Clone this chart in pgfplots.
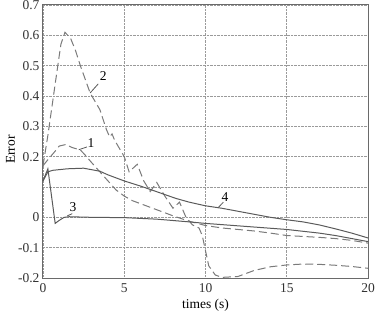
\documentclass[border=0pt]{standalone}
\usepackage{pgfplots}
\pgfplotsset{compat=1.18}
\usepackage{fontspec}
\setmainfont{Liberation Serif}
\definecolor{solidc}{HTML}{5A5A5A}
\definecolor{dashc}{HTML}{7A7A7A}
\definecolor{gridc}{HTML}{9A9A9A}
\definecolor{framec}{HTML}{6A6A6A}
\begin{document}
\begin{tikzpicture}
\begin{axis}[
  at={(0pt,0pt)}, anchor=south west,
  scale only axis, width=325pt, height=273pt,
  xmin=0, xmax=20, ymin=-0.2, ymax=0.7,
  xtick={0,5,10,15,20},
  ytick={-0.2,-0.1,0,0.1,0.2,0.3,0.4,0.5,0.6,0.7},
  yticklabels={-0.2,-0.1,0,,0.2,0.3,0.4,0.5,0.6,0.7},
  /pgf/number format/assume math mode=true,
  tick label style={font=\fontsize{13.5}{15}\selectfont, text=black!80},
  xticklabel style={yshift=-2pt},
  major tick length=0pt,
  grid=major,
  major grid style={densely dotted, gridc, line width=0.8pt},
  axis line style={framec, line width=1pt},
  xlabel={times (s)},
  ylabel={Error},
  label style={font=\fontsize{13.5}{15}\selectfont},
  xlabel style={at={(axis description cs:0.5,-0.099)}, anchor=center},
  ylabel style={at={(axis description cs:-0.1,0.47)}, anchor=center},
  clip=false,
]
% curve 1 (dashed)
\addplot[dashc, line width=1pt, dash pattern=on 8pt off 4pt] coordinates {
(0,0.17) (0.3,0.19) (0.7,0.215) (1.0,0.235) (1.4,0.24) (1.8,0.23) (2.3,0.222)
(2.6,0.205) (3.0,0.18) (3.5,0.15) (4.0,0.12) (4.5,0.09) (5.0,0.07) (5.5,0.055)
(6.0,0.045) (6.5,0.035) (7.0,0.025) (8.0,0.005) (9.0,-0.013) (10.0,-0.027)
(11,-0.035) (12,-0.04) (13,-0.045) (14,-0.052) (15,-0.06) (16,-0.063)
(17,-0.066) (18,-0.07) (19,-0.076) (20,-0.085)};
% curve 2 (dashed)
\addplot[dashc, line width=1pt, dash pattern=on 8pt off 4pt] coordinates {
(0,0.17) (0.3,0.27) (0.75,0.44) (1.1,0.57) (1.35,0.61) (1.7,0.59) (2.0,0.55)
(2.3,0.50) (2.9,0.41) (3.5,0.355) (3.9,0.29) (4.1,0.265) (4.25,0.275) (4.4,0.255)
(5.0,0.20) (5.3,0.15) (5.8,0.175) (6.2,0.12) (6.6,0.085) (7.0,0.115) (7.5,0.07)
(8.0,0.03) (8.4,0.05) (8.8,0.0) (9.2,-0.025) (9.6,-0.035) (9.8,-0.06)
(10.2,-0.16) (10.6,-0.19) (11.0,-0.198) (12.0,-0.195) (13.0,-0.175)
(14.0,-0.163) (15.0,-0.157) (16.0,-0.154) (17.0,-0.155) (18.0,-0.158)
(19.0,-0.162) (20.0,-0.168)};
% curve 3 (solid)
\addplot[solidc, line width=1pt] coordinates {
(0,0.12) (0.3,0.16) (0.5,0.08) (0.75,-0.02) (1.0,-0.01) (1.3,0.0) (1.6,0.002)
(3,0.0) (5,-0.001) (7,-0.006) (9,-0.015) (10,-0.02) (12,-0.028) (14,-0.036)
(15,-0.04) (16,-0.046) (17,-0.052) (18,-0.06) (19,-0.07) (20,-0.08)};
% curve 4 (solid)
\addplot[solidc, line width=1pt] coordinates {
(0,0.12) (0.3,0.15) (0.6,0.155) (1.5,0.16) (2.5,0.162) (3.5,0.152) (4.0,0.14)
(5,0.12) (6,0.103) (6.6,0.092) (7.5,0.075) (8.2,0.062) (9,0.05) (10,0.038)
(11,0.03) (12,0.02) (13,0.01) (14,0.0) (15,-0.008) (16,-0.015) (17,-0.025)
(18,-0.038) (19,-0.052) (20,-0.068)};
% labels with leader lines
\draw[solidc, line width=0.8pt] (axis cs:2.2,0.223) -- (axis cs:2.7,0.232);
\node[font=\fontsize{13.5}{15}\selectfont, anchor=center] at (axis cs:2.95,0.245) {1};
\draw[solidc, line width=0.8pt] (axis cs:2.9,0.41) -- (axis cs:3.4,0.44);
\node[font=\fontsize{13.5}{15}\selectfont, anchor=center] at (axis cs:3.7,0.465) {2};
\draw[solidc, line width=0.8pt] (axis cs:1.5,0.005) -- (axis cs:1.8,0.012);
\node[font=\fontsize{13.5}{15}\selectfont, anchor=center] at (axis cs:1.85,0.035) {3};
\draw[solidc, line width=0.8pt] (axis cs:10.8,0.033) -- (axis cs:11.1,0.05);
\node[font=\fontsize{13.5}{15}\selectfont, anchor=center] at (axis cs:11.2,0.068) {4};
\end{axis}
\pgfresetboundingbox
\path[use as bounding box] (-43pt,-43pt) rectangle (334pt,278pt);
\end{tikzpicture}
\end{document}
